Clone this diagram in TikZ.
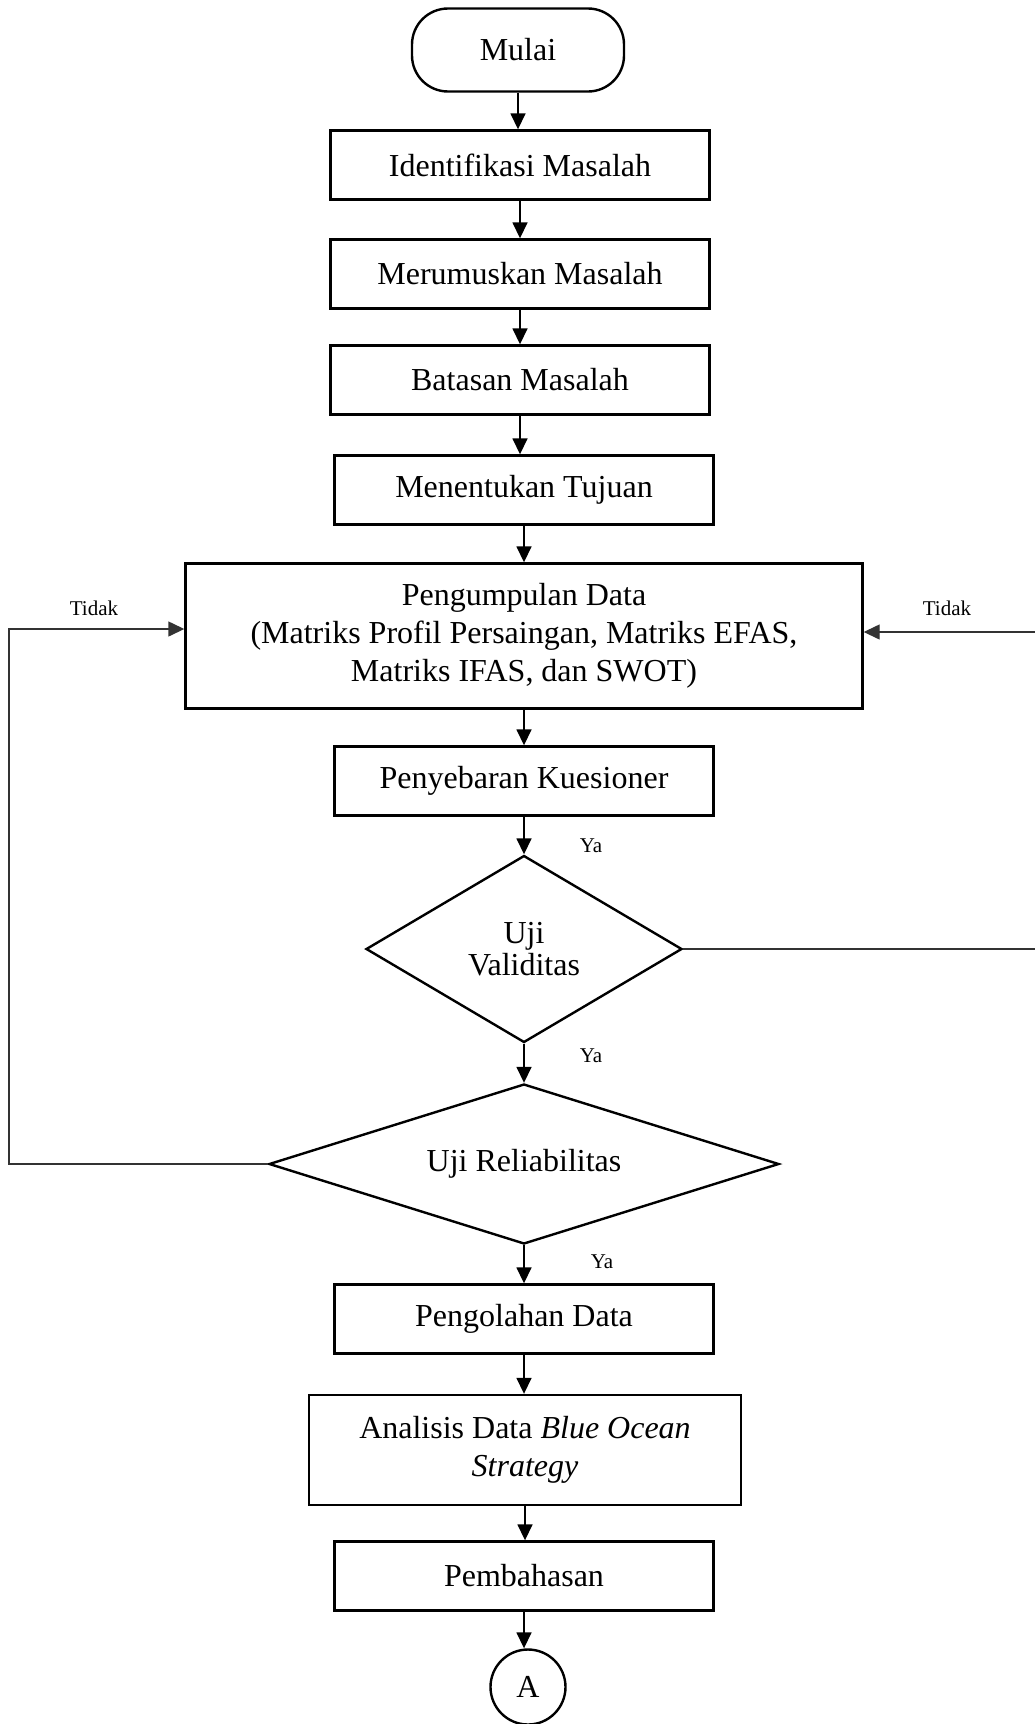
\documentclass[tikz,border=0pt]{standalone}
\usepackage{fontspec}
\setmainfont{Liberation Serif}
\usetikzlibrary{shapes.geometric,arrows.meta}

\tikzset{
  box/.style={draw, line width=2.4pt, minimum width=379pt, minimum height=69pt,
    inner sep=0pt, align=center, font=\fontsize{32}{38}\selectfont},
  terminal/.style={box, minimum width=212pt, minimum height=83pt, rounded corners=36pt},
  keputusan/.style={diamond, draw, line width=2.4pt, inner sep=0pt, align=center,
    font=\fontsize{32}{38}\selectfont},
  konektor/.style={circle, draw, line width=2.4pt, minimum size=75pt, inner sep=0pt,
    font=\fontsize{32}{38}\selectfont},
  panah/.style={line width=1.6pt, -{Triangle[length=16pt,width=15pt]}},
  balik/.style={line width=1.4pt, draw=black!80, -{Triangle[length=16pt,width=15pt]}},
  catatan/.style={inner sep=0pt, font=\fontsize{21}{24}\selectfont}
}

\begin{document}
\begin{tikzpicture}[x=1pt,y=-1pt]
\useasboundingbox (0,0) rectangle (1035,1724);

\node[terminal] (mulai) at (518,50) {Mulai};
\node[box] (identifikasi) at (520,165) {Identifikasi Masalah};
\node[box] (rumusan) at (520,274) {Merumuskan Masalah};
\node[box] (batasan) at (520,380) {Batasan Masalah};
\node[box] (tujuan) at (524,490) {Menentukan Tujuan};
\node[box, minimum width=677pt, minimum height=145pt] (data) at (524,636)
  {Pengumpulan Data\\(Matriks Profil Persaingan, Matriks EFAS,\\Matriks IFAS, dan SWOT)};
\node[box] (kuesioner) at (524,781) {Penyebaran Kuesioner};
\node[keputusan, aspect=1.69, minimum width=316pt, minimum height=187pt] (validitas) at (524,949)
  {Uji\\[-6pt]Validitas};
\node[keputusan, aspect=3.19, minimum width=510pt, minimum height=160pt] (reliabilitas) at (524,1164)
  {Uji Reliabilitas};
\node[box] (olah) at (524,1319) {Pengolahan Data};
\node[box, minimum width=432pt, minimum height=110pt] (analisis) at (525,1450)
  {Analisis Data \textit{Blue Ocean}\\\textit{Strategy}};
\node[box] (bahas) at (524,1576) {Pembahasan};
\node[konektor] (a) at (528,1687) {A};

% alur utama
\draw[panah] (mulai) -- (mulai |- identifikasi.north);
\draw[panah] (identifikasi) -- (identifikasi |- rumusan.north);
\draw[panah] (rumusan) -- (rumusan |- batasan.north);
\draw[panah] (batasan) -- (batasan |- tujuan.north);
\draw[panah] (tujuan) -- (tujuan |- data.north);
\draw[panah] (data) -- (data |- kuesioner.north);
\draw[panah] (kuesioner) -- (validitas.north);
\draw[panah] (validitas) -- (reliabilitas.north);
\draw[panah] (reliabilitas) -- (olah.north);
\draw[panah] (olah) -- (olah |- analisis.north);
\draw[panah] (analisis) -- (analisis |- bahas.north);
\draw[panah] (bahas) -- (bahas |- a.north);

% alur kembali
\coordinate (kiri) at (9,629);
\coordinate (kanan) at (1045,632);
\draw[balik] (reliabilitas.west) -| (kiri) -- (kiri -| data.west);
\draw[balik] (validitas.east) -| (kanan) -- (kanan -| data.east);

\node[catatan] (tidakkiri) at (94,608) {Tidak};
\node[catatan] (tidakkanan) at (947,608) {Tidak};
\node[catatan] (ya1) at (591,846) {Ya};
\node[catatan] (ya2) at (591,1056) {Ya};
\node[catatan] (ya3) at (602,1262) {Ya};
\end{tikzpicture}
\end{document}
